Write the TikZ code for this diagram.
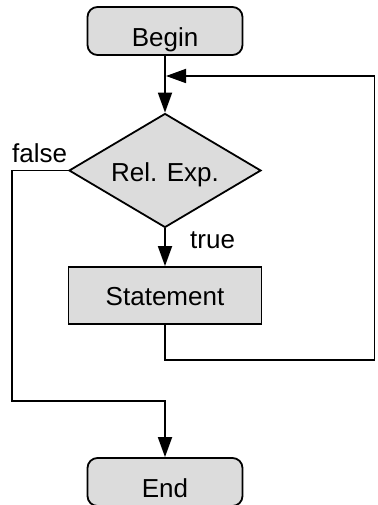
\documentclass[tikz,border=0pt]{standalone}
\usepackage{fontspec}
\setmainfont{Liberation Sans}
\usetikzlibrary{arrows.meta,shapes.geometric}
\definecolor{boxgray}{RGB}{220,220,220}
\begin{document}
\begin{tikzpicture}[x=1pt,y=-1pt,
  every node/.style={font=\fontsize{26}{30}\selectfont},
  term/.style={draw, fill=boxgray, rounded corners=10pt, line width=1.8pt,
    minimum width=155pt, minimum height=48pt, inner sep=0pt,
    text height=31pt, text depth=0pt},
  proc/.style={draw, fill=boxgray, line width=1.8pt,
    minimum width=193pt, minimum height=57pt, inner sep=0pt,
    text height=19pt, text depth=0pt},
  decis/.style={draw, diamond, fill=boxgray, line width=1.8pt,
    shape aspect=1.684,
    minimum width=192pt, minimum height=114pt, inner sep=0pt,
    text height=22pt, text depth=0pt},
  lbl/.style={inner sep=0pt, anchor=base west},
  conn/.style={line width=1.8pt, -{Triangle[length=20pt,width=14pt]}},
  line/.style={line width=1.8pt}
]
\useasboundingbox (0,0) rectangle (377,505);

\node[term] (begin) at (165,31) {Begin};
\node[decis] (cond) at (165,170.5) {Rel. Exp.};
\node[proc] (stmt) at (165,295.5) {Statement};
\node[term] (end) at (165,482) {End};

\node[lbl] (flbl) at (12,162) {false};
\node[lbl] (tlbl) at (190,248) {true};

\coordinate (fb1) at (165,360);
\coordinate (fb2) at (374.5,360);
\coordinate (fb3) at (374.5,76);
\coordinate (fbin) at (166,76);

\coordinate (f1) at (12,170.5);
\coordinate (f2) at (12,401);
\coordinate (f3) at (165,401);

\draw[conn] (begin.south) -- (cond.north);
\draw[conn] (cond.south) -- (stmt.north);
\draw[conn] (stmt.south) -- (fb1) -- (fb2) -- (fb3) -- (fbin);
\draw[conn] (cond.west) -- (f1) -- (f2) -- (f3) -- (end.north);
\end{tikzpicture}
\end{document}
